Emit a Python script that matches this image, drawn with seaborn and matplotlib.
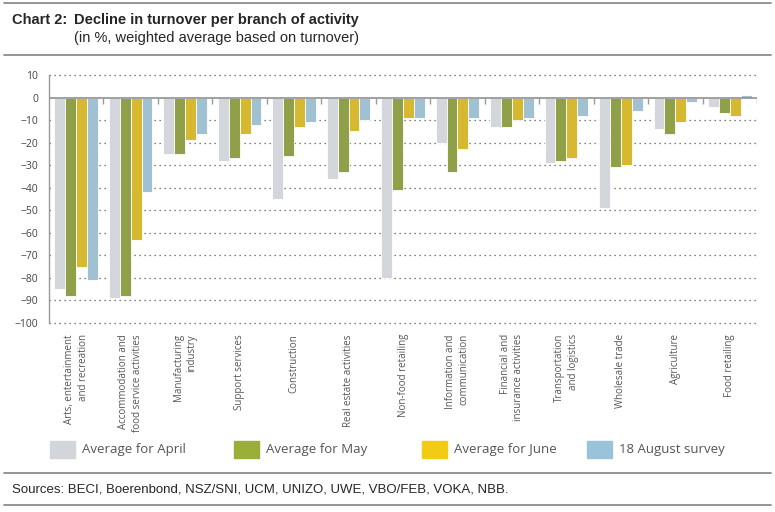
"""
Chart 2: decline in turnover per branch of activity.
"""

import numpy as np
import pandas as pd
import matplotlib.pyplot as plt
from matplotlib.patches import Rectangle
from matplotlib.lines import Line2D
import seaborn as sns


branches = [
    'Arts, entertainment\nand recreation',
    'Accommodation and\nfood service activities',
    'Manufacturing\nindustry',
    'Support services',
    'Construction',
    'Real estate activities',
    'Non-food retailing',
    'Information and\ncommunication',
    'Financial and\ninsurance activities',
    'Transportation\nand logistics',
    'Wholesale trade',
    'Agriculture',
    'Food retailing',
]
series = ['Average for April', 'Average for May', 'Average for June', '18 August survey']
april = [-85, -89, -25, -28, -45, -36, -80, -20, -13, -29, -49, -14, -4]
may = [-88, -88, -25, -27, -26, -33, -41, -33, -13, -28, -31, -16, -7]
june = [-75, -63, -19, -16, -13, -15, -9, -23, -10, -27, -30, -11, -8]
august = [-81, -42, -16, -12, -11, -10, -9, -9, -9, -8, -6, -2, 1]
yticks = list(range(-100, 11, 10))

colors = ['#d2d6db', '#9aae3a', '#f2cb14', '#98c3da']

# long form table for seaborn
df = pd.DataFrame({
    'branch': branches * 4,
    'series': np.repeat(series, len(branches)),
    'value': april + may + june + august,
})

sns.set_style('white')
plt.rcParams['font.family'] = ['Open Sans', 'DejaVu Sans']

W, H = 775, 512
fig = plt.figure(figsize=(W / 100, H / 100), dpi=100)
ax = fig.add_axes([49 / W, 1 - 323 / H, (757 - 49) / W, (323 - 75) / H])

sns.barplot(data=df, x='branch', y='value', hue='series', hue_order=series,
            order=branches, palette=colors, width=0.8, edgecolor='white',
            linewidth=0.6, ax=ax, legend=False, errorbar=None)

ax.set_ylim(-100, 10)
ax.set_xlim(-0.5, len(branches) - 0.5)
ax.set_yticks(yticks)
ax.set_xlabel('')
ax.set_ylabel('')

# dotted grid, solid zero line
for y in yticks:
    if y != 0:
        ax.axhline(y, color='#555555', lw=0.9, ls=(0, (1, 3)), zorder=0, clip_on=False)
ax.axhline(0, color='#999999', lw=1.3, zorder=3)
ax.vlines(np.arange(len(branches)) + 0.5, -3, 0, color='#999999', lw=1, zorder=3)

for s in ['top', 'right', 'bottom']:
    ax.spines[s].set_visible(False)
ax.spines['left'].set_color('#999999')
ax.spines['left'].set_linewidth(1)

ax.tick_params(axis='y', length=6, width=1, color='#999999', labelsize=7.5,
               labelcolor='#444444', pad=2)
ax.tick_params(axis='x', length=0, pad=8)
ax.set_xticks(range(len(branches)))
ax.set_xticklabels(branches, rotation=90, ha='center', va='top',
                   multialignment='right', fontsize=7, color='#555555',
                   linespacing=1.35)

# legend drawn by hand to keep the original spacing
leg_x = [50, 234, 422, 587]
for x, label, c in zip(leg_x, series, colors):
    fig.patches.append(Rectangle((x / W, 1 - 458 / H), 25 / W, 17 / H,
                                 transform=fig.transFigure, color=c))
    fig.text((x + 32) / W, 1 - 449 / H, label, fontsize=9.5, color='#555555',
             va='center', ha='left')

# title block and rules
for y in [3, 55, 473, 505]:
    fig.add_artist(Line2D([4 / W, 771 / W], [1 - y / H, 1 - y / H],
                          transform=fig.transFigure, color='#8c8c8c', lw=1.3))
fig.text(12 / W, 1 - 20 / H, 'Chart 2:', fontsize=10.5, fontweight='bold',
         family=['Liberation Sans', 'DejaVu Sans'], va='center')
fig.text(74 / W, 1 - 20 / H, 'Decline in turnover per branch of activity', fontsize=10.5,
         fontweight='bold', family=['Liberation Sans', 'DejaVu Sans'], va='center')
fig.text(74 / W, 1 - 38 / H, '(in %, weighted average based on turnover)', fontsize=10.5,
         family=['Liberation Sans', 'DejaVu Sans'], va='center')
fig.text(12 / W, 1 - 490 / H,
         'Sources: BECI, Boerenbond, NSZ/SNI, UCM, UNIZO, UWE, VBO/FEB, VOKA, NBB.',
         fontsize=9.5, family=['Liberation Sans', 'DejaVu Sans'], va='center')

fig.savefig('out.png', dpi=100)
